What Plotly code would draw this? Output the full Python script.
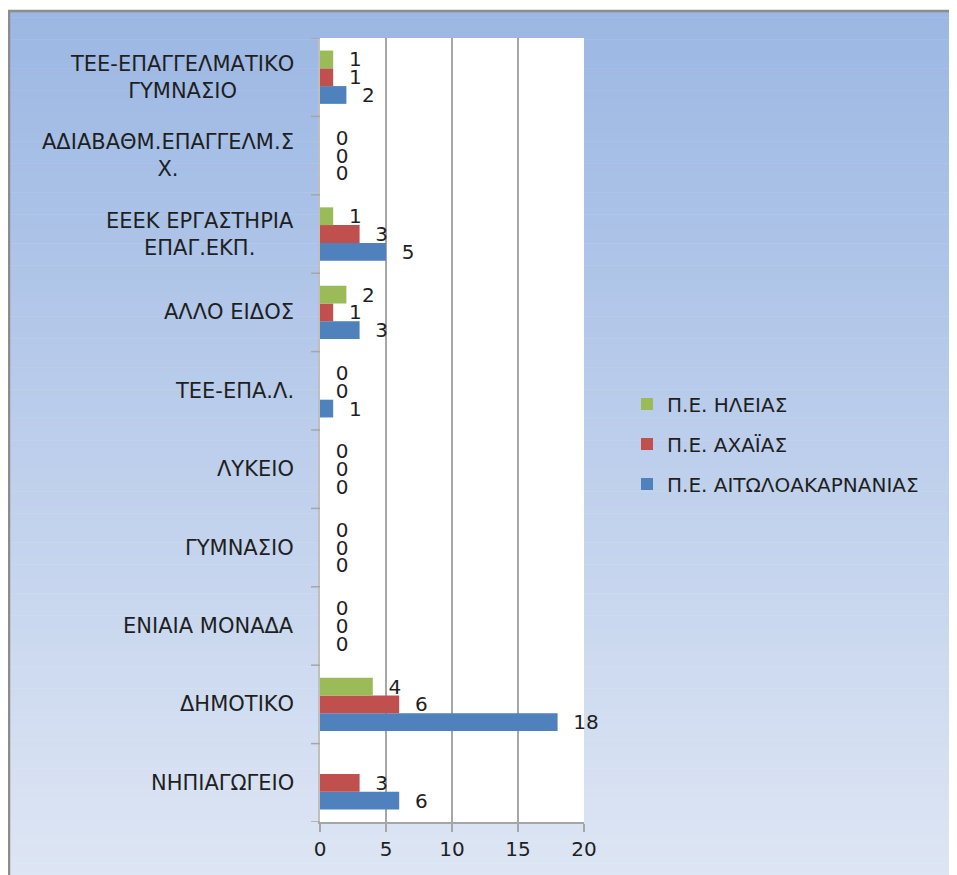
import plotly.graph_objects as go

categories = ["ΝΗΠΙΑΓΩΓΕΙΟ", "ΔΗΜΟΤΙΚΟ", "ΕΝΙΑΙΑ ΜΟΝΑΔΑ", "ΓΥΜΝΑΣΙΟ", "ΛΥΚΕΙΟ",
              "ΤΕΕ-ΕΠΑ.Λ.", "ΑΛΛΟ ΕΙΔΟΣ", "ΕΕΕΚ ΕΡΓΑΣΤΗΡΙΑ<br>ΕΠΑΓ.ΕΚΠ.",
              "ΑΔΙΑΒΑΘΜ.ΕΠΑΓΓΕΛΜ.Σ<br>Χ.", "ΤΕΕ-ΕΠΑΓΓΕΛΜΑΤΙΚΟ<br>ΓΥΜΝΑΣΙΟ"]
aitoloakarnania = [6, 18, 0, 0, 0, 1, 3, 5, 0, 2]
achaia = [3, 6, 0, 0, 0, 0, 1, 3, 0, 1]
ileia = [None, 4, 0, 0, 0, 0, 2, 1, 0, 1]
series_names = ["Π.Ε. ΑΙΤΩΛΟΑΚΑΡΝΑΝΙΑΣ", "Π.Ε. ΑΧΑΪΑΣ", "Π.Ε. ΗΛΕΙΑΣ"]
x_ticks = [0, 5, 10, 15, 20]

colors = ["#4F81BD", "#C0504D", "#9BBB59"]
legend_ranks = [3, 2, 1]
FONT = "DejaVu Sans"
TXT = "#1F1F1F"
W, H = 957, 875
OFF = 8  # page offset of the figure in the screenshot
# plot area in screen pixels
L, R, T, B = 320, 584, 38, 822


def xp(px):
    return (px - L) / (R - L)


def yp(py):
    return (B - py) / (B - T)


ycat = list(range(len(categories)))

fig = go.Figure()
for name, vals, col, rank in zip(series_names, [aitoloakarnania, achaia, ileia], colors, legend_ranks):
    fig.add_trace(go.Bar(
        y=ycat, x=vals, orientation="h", name=name, marker_color=col,
        marker_line_width=0,
        text=[("" if v is None else "\u00a0\u00a0" + str(v)) for v in vals],
        textposition="outside", constraintext="none", cliponaxis=False,
        textfont=dict(family=FONT, size=20, color=TXT),
        legendgroup=name, legendrank=rank,
    ))

shapes = []
# gradient background
top_c = (0x9B, 0xB7, 0xE3)
bot_c = (0xDE, 0xE6, 0xF4)
n = 120
y_top, y_bot = 10, H + 10
for i in range(n):
    t = i / (n - 1)
    c = tuple(round(a + (b - a) * t) for a, b in zip(top_c, bot_c))
    py0 = y_top + (y_bot - y_top) * i / n
    py1 = y_top + (y_bot - y_top) * (i + 1) / n + 0.5
    shapes.append(dict(type="rect", xref="paper", yref="paper",
                       x0=xp(8), x1=xp(W + 10), y0=yp(py1), y1=yp(py0),
                       fillcolor="rgb(%d,%d,%d)" % c, line_width=0, layer="below"))
# plot area white
shapes.append(dict(type="rect", xref="paper", yref="paper", x0=0, x1=1, y0=0, y1=1,
                   fillcolor="white", line_width=0, layer="below"))
# outer frame lines
shapes.append(dict(type="line", xref="paper", yref="paper", x0=xp(8), x1=xp(W + 10),
                   y0=yp(11), y1=yp(11), line=dict(color="#8C8C8C", width=2.5)))
shapes.append(dict(type="line", xref="paper", yref="paper", x0=xp(9), x1=xp(9),
                   y0=yp(10), y1=yp(H + 10), line=dict(color="#8C8C8C", width=2.5)))

annotations = []
for i, c in enumerate(categories):
    annotations.append(dict(x=0, y=i, xref="x", yref="y", text=c, showarrow=False,
                            xanchor="right", yanchor="middle", align="center", xshift=-24,
                            font=dict(family=FONT, size=21, color=TXT)))

fig.update_layout(
    width=W, height=H,
    margin=dict(l=L - OFF, r=W - (R - OFF), t=T - OFF, b=H - (B - OFF), pad=0),
    paper_bgcolor="white", plot_bgcolor="white",
    barmode="group", bargap=0.32, bargroupgap=0,
    shapes=shapes, annotations=annotations,
    font=dict(family=FONT, size=20, color=TXT),
    showlegend=True,
    legend=dict(x=xp(627), y=yp(444), xanchor="left", yanchor="middle",
                traceorder="grouped", tracegroupgap=11,
                bgcolor="rgba(0,0,0,0)", font=dict(family=FONT, size=20, color=TXT)),
    xaxis=dict(range=[0, 20], tickvals=x_ticks, ticktext=[str(v) for v in x_ticks],
               showgrid=True, gridcolor="#A6A6A6", gridwidth=1.5,
               showline=True, linecolor="#A6A6A6", linewidth=1.5,
               ticks="outside", ticklen=8, tickcolor="#A6A6A6", tickwidth=1.5,
               zeroline=False, tickfont=dict(family=FONT, size=20, color=TXT),
               mirror=False),
    yaxis=dict(tickvals=ycat, ticktext=[""] * len(categories), range=[-0.5, len(categories) - 0.5],
               showticklabels=False, showgrid=False, zeroline=False,
               showline=True, linecolor="#BFBFBF", linewidth=1.5,
               ticks="", fixedrange=True),
)
# category boundary ticks on the y axis
for b in [i - 0.5 for i in range(len(categories) + 1)]:
    fig.add_shape(type="line", xref="paper", yref="y", x0=xp(311), x1=0, y0=b, y1=b,
                  line=dict(color="#A6A6A6", width=1.5))

fig.write_html("out.html")
